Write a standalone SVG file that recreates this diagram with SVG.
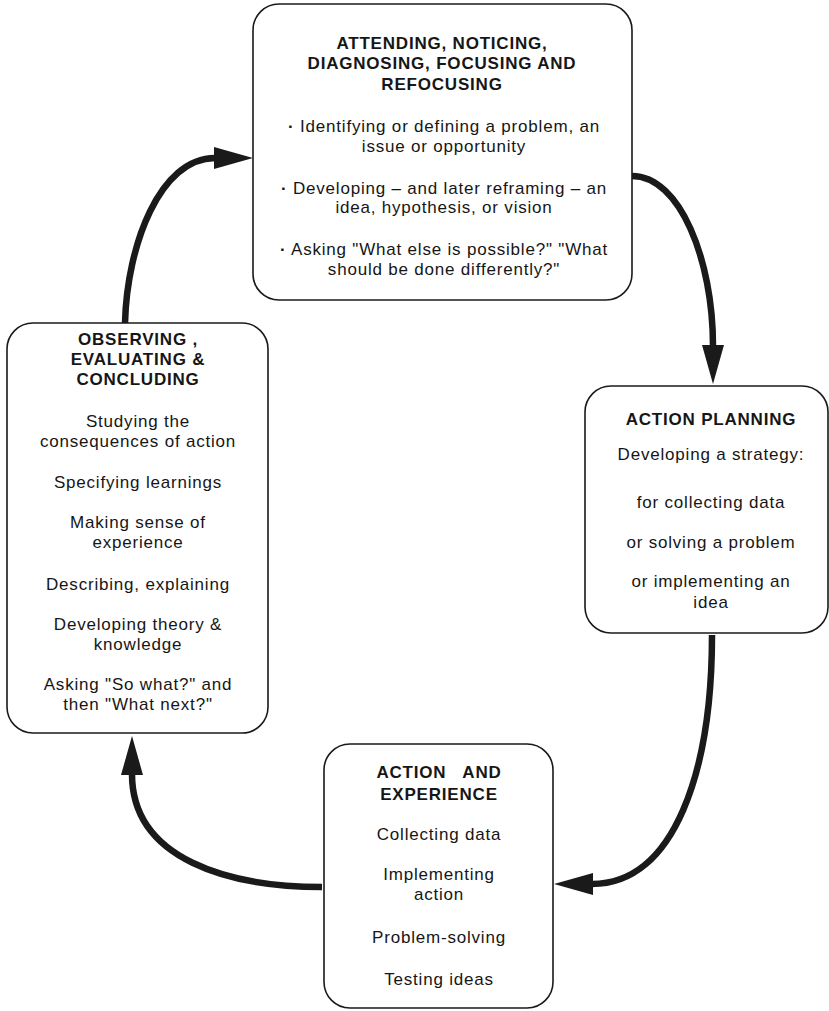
<svg xmlns="http://www.w3.org/2000/svg" width="829" height="1011" viewBox="0 0 829 1011">
<style>
.box{fill:#fff;stroke:#1a1a1a;stroke-width:1.6}
.t{font-family:"Liberation Sans",Arial,Helvetica,sans-serif;font-size:17px;letter-spacing:0.8px;fill:#161616;text-anchor:middle}
.b{font-weight:bold}
.c{fill:none;stroke:#1a1a1a;stroke-width:6.5;stroke-linecap:butt}
</style>
<defs>
<marker id="ah" markerUnits="userSpaceOnUse" markerWidth="42" markerHeight="24" refX="1" refY="11" orient="auto">
<path d="M0,0 L39,11 L0,22 z" fill="#1a1a1a"/>
</marker>
</defs>
<rect width="829" height="1011" fill="#fff"/>
<g id="connectors">
<path class="c" d="M125,323 C127,245 160,158 215,158" marker-end="url(#ah)"/>
<path class="c" d="M632,176 C680,176 713,260 713,346" marker-end="url(#ah)"/>
<path class="c" d="M712,635 C712,770 675,884 592,884" marker-end="url(#ah)"/>
<path class="c" d="M322,887 C230,887 132,860 132,774" marker-end="url(#ah)"/>
</g>
<g id="node-attending">
<rect class="box" x="253" y="4" width="379" height="296" rx="26"/>
<text class="t b" x="442" y="49">ATTENDING, NOTICING,</text>
<text class="t b" x="442" y="69">DIAGNOSING, FOCUSING AND</text>
<text class="t b" x="442" y="90">REFOCUSING</text>
<text class="t" x="444" y="132"><tspan class="b">·</tspan> Identifying or defining a problem, an</text>
<text class="t" x="444" y="152">issue or opportunity</text>
<text class="t" x="444" y="194"><tspan class="b">·</tspan> Developing – and later reframing – an</text>
<text class="t" x="444" y="213">idea, hypothesis, or vision</text>
<text class="t" x="444" y="255"><tspan class="b">·</tspan> Asking "What else is possible?" "What</text>
<text class="t" x="444" y="275">should be done differently?"</text>
</g>
<g id="node-planning">
<rect class="box" x="585" y="386" width="243" height="247" rx="26"/>
<text class="t b" x="711" y="425">ACTION PLANNING</text>
<text class="t" x="711" y="460">Developing a strategy:</text>
<text class="t" x="711" y="508">for collecting data</text>
<text class="t" x="711" y="548">or solving a problem</text>
<text class="t" x="711" y="587">or implementing an</text>
<text class="t" x="711" y="608">idea</text>
</g>
<g id="node-action">
<rect class="box" x="324" y="744" width="229" height="264" rx="26"/>
<text class="t b" x="439" y="778" xml:space="preserve">ACTION   AND</text>
<text class="t b" x="439" y="800">EXPERIENCE</text>
<text class="t" x="439" y="840">Collecting data</text>
<text class="t" x="439" y="880">Implementing</text>
<text class="t" x="439" y="900">action</text>
<text class="t" x="439" y="943">Problem-solving</text>
<text class="t" x="439" y="985">Testing ideas</text>
</g>
<g id="node-observing">
<rect class="box" x="7" y="323" width="261" height="410" rx="26"/>
<text class="t b" x="138" y="345">OBSERVING ,</text>
<text class="t b" x="138" y="365">EVALUATING &amp;</text>
<text class="t b" x="138" y="385">CONCLUDING</text>
<text class="t" x="138" y="427">Studying the</text>
<text class="t" x="138" y="447">consequences of action</text>
<text class="t" x="138" y="488">Specifying learnings</text>
<text class="t" x="138" y="528">Making sense of</text>
<text class="t" x="138" y="548">experience</text>
<text class="t" x="138" y="590">Describing, explaining</text>
<text class="t" x="138" y="630">Developing theory &amp;</text>
<text class="t" x="138" y="650">knowledge</text>
<text class="t" x="138" y="690">Asking "So what?" and</text>
<text class="t" x="138" y="710">then "What next?"</text>
</g>
</svg>
